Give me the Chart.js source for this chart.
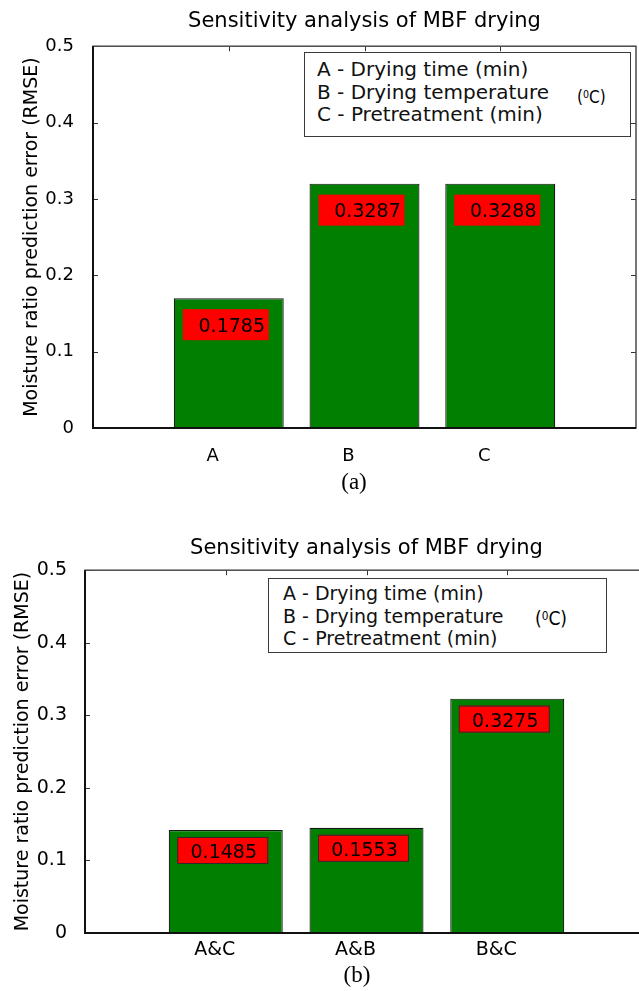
<!DOCTYPE html>
<html>
<head>
<meta charset="utf-8">
<script src="https://cdn.jsdelivr.net/npm/chart.js@4.4.1/dist/chart.umd.min.js"></script>
<style>
  html, body { margin: 0; padding: 0; background: #fff; overflow: hidden; }
  #page { position: relative; width: 639px; height: 991px; overflow: hidden; }
  .plot { position: absolute; left: 0; }
  .key { position: absolute; box-sizing: border-box; border: 1.5px solid #3a3a3a; background: #fff;
         font-family: "DejaVu Sans", sans-serif; color: #111; white-space: nowrap; }
  .unit { position: absolute; font-family: "Liberation Sans Narrow", "DejaVu Sans Condensed", "Liberation Sans", sans-serif; color: #000; }
  .unit sup { font-size: 0.62em; vertical-align: 0.45em; }
  .cap { position: absolute; width: 80px; text-align: center; font-family: "Liberation Serif", serif;
         font-size: 23px; line-height: 28px; color: #000; }
</style>
</head>
<body>
<div id="page">
  <canvas id="chartA" class="plot" width="639" height="470" style="top:0"></canvas>
  <canvas id="chartB" class="plot" width="660" height="471" style="top:520px"></canvas>

  <div class="key" style="left:304px;top:52px;width:327px;height:85px;font-size:20px;line-height:22.5px;padding:5px 0 0 12px">A - Drying time (min)<br>B - Drying temperature<br>C - Pretreatment (min)</div>
  <div class="unit" style="left:577px;top:84px;font-size:17px;line-height:20px">(<sup>0</sup>C)</div>
  <div class="cap" style="left:314px;top:468px">(a)</div>

  <div class="key" style="left:268px;top:578px;width:339px;height:75px;font-size:19px;line-height:22.5px;padding:3px 0 0 14px">A - Drying time (min)<br>B - Drying temperature<br>C - Pretreatment (min)</div>
  <div class="unit" style="left:535px;top:605px;font-size:19px;line-height:22px">(<sup>0</sup>C)</div>
  <div class="cap" style="left:317px;top:961px">(b)</div>
</div>

<script>
// (a) single factors
var categoriesA = ['A', 'B', 'C'];
var rmseA = [0.17, 0.32, 0.32];
var tagsA = ['0.1785', '0.3287', '0.3288'];

// (b) factor pairs
var categoriesB = ['A&C', 'A&B', 'B&C'];
var rmseB = [0.142, 0.145, 0.323];
var tagsB = ['0.1485', '0.1553', '0.3275'];

var yTickValues = [0, 0.1, 0.2, 0.3, 0.4, 0.5];

Chart.defaults.font.family = '"DejaVu Sans", sans-serif';
Chart.defaults.color = '#000';

// matlab-ish box, inward ticks and the red value tags
var framePlugin = {
    id: 'frame',
    afterDatasetsDraw: function (chart, args, opts) {
        var ctx = chart.ctx, area = chart.chartArea;
        var x = chart.scales.x, y = chart.scales.y;
        ctx.save();

        ctx.strokeStyle = '#333';
        ctx.lineWidth = 1;
        ctx.beginPath();
        y.ticks.forEach(function (t) {
            var py = Math.round(y.getPixelForValue(t.value)) + 0.5;
            ctx.moveTo(area.left, py); ctx.lineTo(area.left + 5, py);
            ctx.moveTo(area.right, py); ctx.lineTo(area.right - 5, py);
        });
        x.ticks.forEach(function (t) {
            var px = Math.round(x.getPixelForValue(t.value)) + 0.5;
            ctx.moveTo(px, area.top); ctx.lineTo(px, area.top + 5);
        });
        ctx.stroke();

        ctx.strokeStyle = '#4a4a4a';
        ctx.lineWidth = 1.5;
        ctx.strokeRect(area.left, area.top, area.right - area.left, area.bottom - area.top);
        ctx.strokeStyle = '#111';
        ctx.lineWidth = 2;
        ctx.beginPath();
        ctx.moveTo(area.left, area.top);
        ctx.lineTo(area.left, area.bottom);
        ctx.lineTo(area.right, area.bottom);
        ctx.stroke();

        var meta = chart.getDatasetMeta(0);
        ctx.font = opts.font;
        ctx.textAlign = 'center';
        ctx.textBaseline = 'middle';
        meta.data.forEach(function (bar, i) {
            var left = bar.x - opts.w / 2 + opts.dx, top = bar.y + opts.dy;
            ctx.fillStyle = '#ff0000';
            ctx.fillRect(left, top, opts.w, opts.h);
            if (opts.outline) {
                ctx.strokeStyle = '#2a2a2a';
                ctx.lineWidth = 1;
                ctx.strokeRect(left + 0.5, top + 0.5, opts.w - 1, opts.h - 1);
            }
            ctx.fillStyle = '#000';
            ctx.fillText(opts.tags[i], left + opts.w / 2 + opts.textDx, top + opts.h / 2 + opts.textDy);
        });
        ctx.restore();
    }
};

function makeChart(id, categories, values, tags, cfg) {
    return new Chart(document.getElementById(id), {
        type: 'bar',
        data: {
            datasets: [{
                data: categories.map(function (c, i) { return { x: i + 1, y: values[i] }; }),
                backgroundColor: '#007f00',
                borderColor: '#161616',
                borderWidth: 1.2,
                categoryPercentage: 1,
                barPercentage: 0.81
            }]
        },
        options: {
            responsive: false,
            animation: false,
            layout: { padding: { left: 0, right: cfg.padRight, top: 0, bottom: 0 } },
            plugins: {
                legend: { display: false },
                tooltip: { enabled: false },
                title: {
                    display: true,
                    fullSize: false,
                    text: 'Sensitivity analysis of MBF drying',
                    color: '#000',
                    font: { size: 21, weight: 'normal' },
                    padding: cfg.titlePad
                },
                frame: {
                    tags: tags, font: cfg.tagFont, w: cfg.tagW, h: cfg.tagH,
                    dx: cfg.tagDx, dy: cfg.tagDy, textDx: cfg.textDx, textDy: cfg.textDy,
                    outline: cfg.outline
                }
            },
            scales: {
                x: {
                    type: 'linear', min: 0, max: 4,
                    offset: false,
                    grid: { display: false, offset: false },
                    border: { display: false },
                    afterBuildTicks: function (s) {
                        s.ticks = categories.map(function (c, i) { return { value: i + 1 }; });
                    },
                    afterFit: function (s) { s.height = cfg.xHeight; },
                    ticks: {
                        autoSkip: false, maxRotation: 0,
                        callback: function (v) { return categories[v - 1] || ''; },
                        font: { size: cfg.xFont },
                        padding: cfg.xPad,
                        labelOffset: cfg.xShift
                    }
                },
                y: {
                    min: 0, max: 0.5,
                    grid: { display: false },
                    border: { display: false },
                    afterBuildTicks: function (s) {
                        s.ticks = yTickValues.map(function (v) { return { value: v }; });
                    },
                    afterFit: function (s) { s.width = cfg.yWidth; },
                    ticks: {
                        callback: function (v) { return v === 0 ? '0' : v.toFixed(1); },
                        font: { size: cfg.yFont },
                        padding: cfg.yPad
                    },
                    title: {
                        display: true,
                        text: 'Moisture ratio prediction error (RMSE)',
                        font: { size: 19 },
                        padding: { top: cfg.yTitlePad, bottom: 0 }
                    }
                }
            }
        },
        plugins: [framePlugin]
    });
}

makeChart('chartA', categoriesA, rmseA, tagsA, {
    padRight: 3, titlePad: { top: 9, bottom: 12 },
    xHeight: 42, xFont: 18, xPad: 10, xShift: -16,
    yWidth: 93, yFont: 18, yPad: 11, yTitlePad: 21,
    tagFont: '19px "DejaVu Sans"', tagW: 86, tagH: 31, tagDx: -3, tagDy: 11,
    textDx: 6, textDy: 2, outline: false
});

makeChart('chartB', categoriesB, rmseB, tagsB, {
    padRight: 12, titlePad: { top: 16, bottom: 9 },
    xHeight: 58, xFont: 19, xPad: -2, xShift: -11,
    yWidth: 85, yFont: 19, yPad: 10, yTitlePad: 12,
    tagFont: '19px "DejaVu Sans"', tagW: 91, tagH: 27, tagDx: -3, tagDy: 7,
    textDx: 1, textDy: 3, outline: true
});
</script>
</body>
</html>
